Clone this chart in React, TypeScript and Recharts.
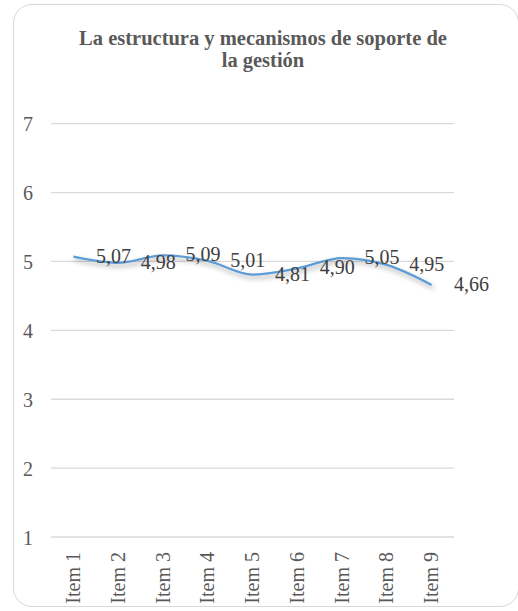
import React from 'react';
import { LineChart, Line, XAxis, YAxis, CartesianGrid, LabelList } from 'recharts';

const title1 = 'La estructura y mecanismos de soporte de';
const title2 = 'la gestión';
const categories = ['Item 1', 'Item 2', 'Item 3', 'Item 4', 'Item 5', 'Item 6', 'Item 7', 'Item 8', 'Item 9'];
const values = [5.07, 4.98, 5.09, 5.01, 4.81, 4.9, 5.05, 4.95, 4.66];
const yTicks = [1, 2, 3, 4, 5, 6, 7];

const data = categories.map((name, i) => ({ name, value: values[i] }));

const FONT = "Tinos, 'Liberation Serif', 'Times New Roman', 'Nimbus Roman', FreeSerif, Times";

const fmt = (v: number) => v.toFixed(2).replace('.', ',');

const XTick = (props: any) => {
  const { x, y, payload } = props;
  return (
    <text
      x={x}
      y={y}
      transform={`rotate(-90, ${x}, ${y})`}
      textAnchor="end"
      dy="0.33em"
      style={{ fontFamily: FONT, fontSize: 20 }}
      fill="#595959"
    >
      {payload.value}
    </text>
  );
};

const YTick = (props: any) => {
  const { x, y, payload } = props;
  return (
    <text x={x} y={y} textAnchor="end" dy="0.38em" style={{ fontFamily: FONT, fontSize: 20 }} fill="#595959">
      {payload.value}
    </text>
  );
};

const DataLabel = (props: any) => {
  const { x, y, value } = props;
  return (
    <text x={x + 22.5} y={y + 6} textAnchor="start" style={{ fontFamily: FONT, fontSize: 20 }} fill="#404040">
      {fmt(value)}
    </text>
  );
};

export default function App() {
  return (
    <div
      style={{
        position: 'absolute',
        left: 0,
        top: 0,
        width: 518,
        height: 611,
        background: '#fff',
        fontFamily: FONT,
      }}
    >
      <svg width={0} height={0} style={{ position: 'absolute' }}>
        <defs>
          <filter id="lineShadow" x="-10%" y="-50%" width="120%" height="200%">
            <feDropShadow dx={1.5} dy={3} stdDeviation={2.5} floodColor="#000" floodOpacity={0.35} />
          </filter>
        </defs>
      </svg>
      <div
        style={{
          position: 'absolute',
          left: 13,
          top: 4,
          width: 506,
          height: 603,
          border: '1.3px solid #d9d9d9',
          borderRadius: 19,
          boxSizing: 'border-box',
        }}
      />
      <div
        style={{
          position: 'absolute',
          left: 10,
          top: 27,
          width: 506,
          textAlign: 'center',
          fontFamily: FONT,
          fontWeight: 'bold',
          fontSize: 20.5,
          lineHeight: '22px',
          color: '#595959',
        }}
      >
        {title1}
        <br />
        {title2}
      </div>
      <div style={{ position: 'absolute', left: 0, top: 0 }}>
        <LineChart
          width={518}
          height={611}
          data={data}
          margin={{ top: 123.7, right: 64, bottom: 0, left: 0 }}
          style={{ fontFamily: FONT }}
        >
          <CartesianGrid vertical={false} stroke="#d9d9d9" strokeWidth={1.3} />
          <XAxis
            dataKey="name"
            interval={0}
            height={74}
            padding={{ left: 22.4, right: 22.4 }}
            axisLine={false}
            tickLine={false}
            tickSize={0}
            tickMargin={15}
            tick={<XTick />}
          />
          <YAxis
            domain={[1, 7]}
            ticks={yTicks}
            interval={0}
            width={51}
            axisLine={false}
            tickLine={false}
            tickSize={0}
            tickMargin={18}
            tick={<YTick />}
          />
          <Line
            type="monotone"
            dataKey="value"
            stroke="#5b9bd5"
            strokeWidth={2.25}
            dot={false}
            isAnimationActive={false}
            style={{ filter: 'url(#lineShadow)' }}
          >
            <LabelList dataKey="value" content={<DataLabel />} />
          </Line>
        </LineChart>
      </div>
    </div>
  );
}
